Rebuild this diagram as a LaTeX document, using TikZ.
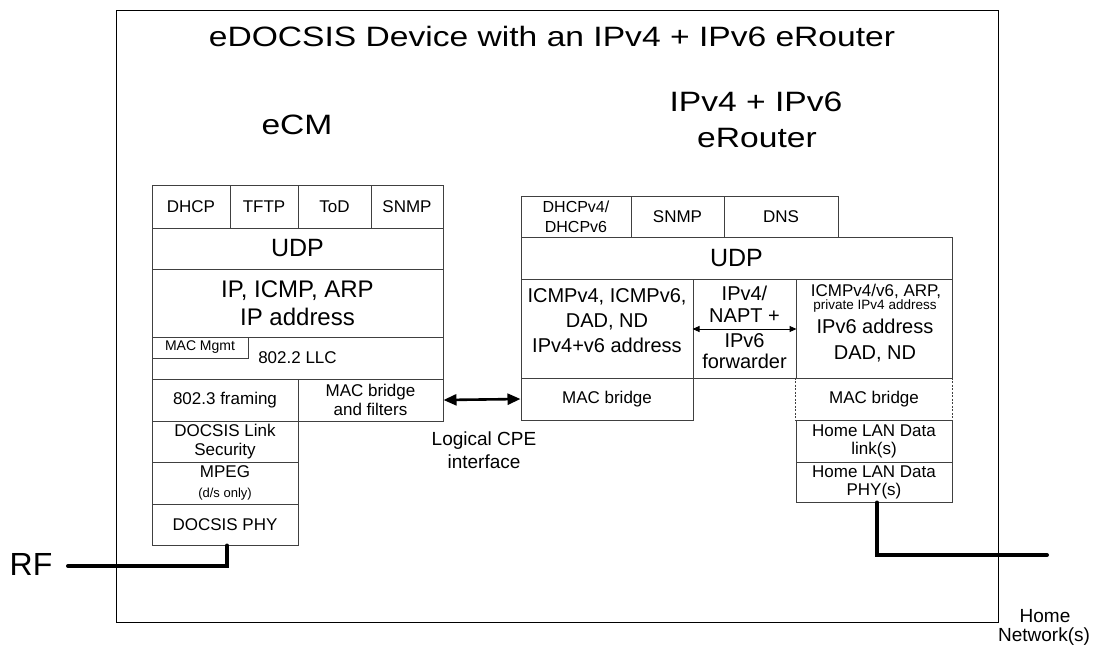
\documentclass[tikz,border=0pt]{standalone}
\usepackage{fontspec}
\setmainfont{Liberation Sans}
\newfontfamily\bigf[FakeStretch=1.2]{Liberation Sans}
\usetikzlibrary{arrows.meta}
\newcommand\fsz[2]{\fontsize{#1}{#2}\selectfont}
\tikzset{
  bx/.style={draw=black!75, line width=1pt, inner sep=0pt, align=center, font=\fsz{17}{19.5}},
  txt/.style={inner sep=0pt, align=center},
  thickline/.style={line width=4pt, line cap=round},
  head/.style={inner sep=0pt, anchor=base, font=\bigf\fsz{28}{34}},
}
\begin{document}
\begin{tikzpicture}[x=1pt,y=-1pt]
\useasboundingbox (0,0) rectangle (1099,648);
% outer device box
\node[draw=black, line width=1pt, inner sep=0pt, minimum width=882, minimum height=612] (dev) at (557,316) {};
\node[head] (title) at (552,46) {eDOCSIS Device with an IPv4 + IPv6 eRouter};
\node[head] (ecmh) at (297,134) {eCM};
\node[head] (erh1) at (756,111) {IPv4 + IPv6};
\node[head] (erh2) at (757,147) {eRouter};

% ---------- eCM stack ----------
\node[bx, minimum width=78, minimum height=43] (dhcp) at (191,206.5) {DHCP};
\node[bx, minimum width=68, minimum height=43] (tftp) at (264,206.5) {TFTP};
\node[bx, minimum width=73, minimum height=43] (tod) at (334.5,206.5) {ToD};
\node[bx, minimum width=72, minimum height=43] (snmp) at (407,206.5) {SNMP};
\node[bx, minimum width=291, minimum height=41, font=\fsz{25}{28}] (udp) at (297.5,248.5) {UDP};
\node[bx, minimum width=291, minimum height=68, font=\fsz{24}{28}] (ip) at (297.5,303) {IP, ICMP, ARP\\IP address};
\node[bx, minimum width=291, minimum height=42] (llc) at (297.5,358) {802.2 LLC};
\node[bx, minimum width=96, minimum height=21, font=\fsz{14}{16}] (mgmt) at (200,347.5) {MAC Mgmt};
\node[bx, minimum width=146, minimum height=42] (fram) at (225,400) {802.3 framing};
\node[bx, minimum width=145, minimum height=42] (macbf) at (370.5,400) {MAC bridge\\and filters};
\node[bx, minimum width=146, minimum height=41] (dls) at (225,441.5) {DOCSIS Link\\Security};
\node[bx, minimum width=146, minimum height=42] (mpeg) at (225,483) {MPEG\\{\fsz{13}{15}(d/s only)}};
\node[bx, minimum width=146, minimum height=41] (phy) at (225,524.5) {DOCSIS PHY};

% ---------- eRouter stack ----------
\node[bx, minimum width=110, minimum height=41, font=\fsz{16}{20}] (dhcpv) at (576,216.5) {DHCPv4/\\DHCPv6};
\node[bx, minimum width=93, minimum height=41] (snmp2) at (677.5,216.5) {SNMP};
\node[bx, minimum width=114, minimum height=41] (dns) at (781,216.5) {DNS};
\node[bx, minimum width=431, minimum height=42, font=\fsz{25}{28}] (udp2) at (736.5,258) {UDP};
\node[bx, minimum width=172, minimum height=99] (icmp) at (607,328.5) {};
\node[txt, font=\fsz{20}{25}] (icmpt) at (607,321) {ICMPv4, ICMPv6,\\DAD, ND\\IPv4+v6 address};
\node[bx, minimum width=103, minimum height=99] (napt) at (744.5,328.5) {};
\node[txt, anchor=base, font=\fsz{20}{22}] (napt1) at (744.5,300) {IPv4/};
\node[txt, anchor=base, font=\fsz{20}{22}] (napt2) at (744.5,322) {NAPT +};
\node[txt, anchor=base, font=\fsz{20}{22}] (napt3) at (744.5,347) {IPv6};
\node[txt, anchor=base, font=\fsz{20}{22}] (napt4) at (744.5,368) {forwarder};
\node[bx, minimum width=156, minimum height=99] (priv) at (874,328.5) {};
\node[txt, anchor=base, font=\fsz{17}{20}] (priv1) at (876,296) {ICMPv4/v6, ARP,};
\node[txt, anchor=base, font=\fsz{13.5}{16}] (priv2) at (875,309) {private IPv4 address};
\node[txt, anchor=base, font=\fsz{20}{24}] (priv3) at (875,333) {IPv6 address};
\node[txt, anchor=base, font=\fsz{20}{24}] (priv4) at (875,359) {DAD, ND};
\node[bx, minimum width=172, minimum height=42] (macb) at (607,399) {MAC bridge};
\node[bx, draw=none, minimum width=156, minimum height=42] (macb2) at (874,399) {MAC bridge};
\draw[black!75, line width=0.8pt, dash pattern=on 2pt off 1.5pt] (macb2.north west) -- (macb2.south west);
\draw[black!75, line width=0.8pt, dash pattern=on 2pt off 1.5pt] (macb2.north east) -- (macb2.south east);
\node[bx, minimum width=156, minimum height=42, font=\fsz{17}{18}] (hl) at (874,441) {Home LAN Data\\link(s)};
\node[bx, minimum width=156, minimum height=40, font=\fsz{17}{18}] (hphy) at (874,482) {Home LAN Data\\PHY(s)};

% ---------- connectors ----------
\draw[line width=2.6pt, {Triangle[length=13pt,width=11pt]}-{Triangle[length=13pt,width=11pt]}] (macbf.east) -- (macb.west);
\coordinate (naptL) at (napt.west |- 0,329);
\coordinate (naptR) at (napt.east |- 0,329);
\draw[line width=1pt, {Triangle[length=7pt,width=6pt]}-{Triangle[length=7pt,width=6pt]}] (naptL) -- (naptR);
\node[txt, anchor=base, font=\fsz{19}{23}] (cpe1) at (484,445) {Logical CPE};
\node[txt, anchor=base, font=\fsz{19}{23}] (cpe2) at (484,468) {interface};

\coordinate (rfend) at (68,566);
\draw[thickline] ([xshift=2pt]phy.south) |- (rfend);
\node[txt, anchor=base, font=\fsz{32}{36}] (rf) at (31,575) {RF};

\coordinate (homeend) at (1047,555);
\draw[thickline] ([xshift=3pt]hphy.south) |- (homeend);
\node[txt, anchor=base, font=\fsz{19}{23}] (home1) at (1045,622) {Home};
\node[txt, anchor=base, font=\fsz{19}{23}] (home2) at (1044,641) {Network(s)};
\end{tikzpicture}
\end{document}
